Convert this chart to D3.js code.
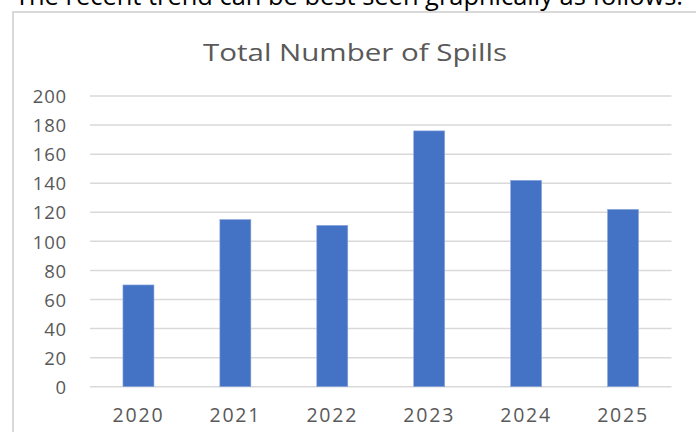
<!DOCTYPE html>
<html>
<head>
<meta charset="utf-8">
<script src="https://cdn.jsdelivr.net/npm/d3@7"></script>
<style>
html,body{margin:0;padding:0;background:#fff;}
svg{display:block;}
</style>
</head>
<body>
<svg id="chart" width="696" height="432"></svg>
<script>
const categories = ["2020","2021","2022","2023","2024","2025"];
const spills = [70, 115, 111, 176, 142, 122];
const yTicks = [0,20,40,60,80,100,120,140,160,180,200];
const titleText = "Total Number of Spills";
const introText = "The recent trend can be best seen graphically as follows:";

const svg = d3.select("#chart");
const W = 696, H = 432;
const plot = {left: 90, right: 671.5, top: 96, bottom: 386.7};

svg.append("rect").attr("width", W).attr("height", H).attr("fill", "#fff");

// intro sentence (cropped at top, as in the reference)
svg.append("text")
  .attr("x", 15).attr("y", 5)
  .attr("font-family", "'Open Sans', 'Liberation Sans', sans-serif")
  .attr("font-size", 25)
  .attr("fill", "#000")
  .attr("textLength", 668)
  .attr("lengthAdjust", "spacingAndGlyphs")
  .text(introText);

// chart border box
svg.append("rect")
  .attr("x", 13).attr("y", 12)
  .attr("width", 700).attr("height", 440)
  .attr("fill", "none")
  .attr("stroke", "#d9d9d9")
  .attr("stroke-width", 2);

const x = d3.scaleBand().domain(categories).range([plot.left, plot.right]).padding(0);
const y = d3.scaleLinear().domain([0, 200]).range([plot.bottom, plot.top]);

// gridlines
svg.append("g").selectAll("line").data(yTicks).join("line")
  .attr("x1", plot.left).attr("x2", plot.right)
  .attr("y1", d => y(d)).attr("y2", d => y(d))
  .attr("stroke", "#d9d9d9").attr("stroke-width", 1.5);

// y axis labels
const yAxis = d3.axisLeft(y).tickValues(yTicks).tickSize(0).tickPadding(0);
const gy = svg.append("g").attr("transform", `translate(67,0)`).call(yAxis);
gy.select(".domain").remove();
gy.selectAll("text")
  .attr("font-family", "'Open Sans', sans-serif")
  .attr("font-size", 18.5)
  .attr("letter-spacing", 0.8)
  .attr("fill", "#595959")
  .attr("dy", "0.36em");

// x axis labels
const xAxis = d3.axisBottom(x).tickSize(0).tickPadding(0);
const gx = svg.append("g").attr("transform", `translate(0,${plot.bottom})`).call(xAxis);
gx.select(".domain").remove();
gx.selectAll("text")
  .attr("font-family", "'Open Sans', sans-serif")
  .attr("font-size", 19.5)
  .attr("letter-spacing", 1.8)
  .attr("fill", "#595959")
  .attr("dy", 0)
  .attr("y", 35);

// bars
const bw = x.bandwidth() * 0.32;
svg.append("g").selectAll("rect").data(categories).join("rect")
  .attr("x", (d) => x(d) + (x.bandwidth() - bw) / 2)
  .attr("width", bw)
  .attr("y", (d, i) => y(spills[i]))
  .attr("height", (d, i) => y(0) - y(spills[i]))
  .attr("fill", "#4472c4")
  .attr("stroke", "#8fa9dc")
  .attr("stroke-width", 0.6);

// title
svg.append("text")
  .attr("x", 355).attr("y", 61)
  .attr("text-anchor", "middle")
  .attr("font-family", "'Open Sans', sans-serif")
  .attr("font-size", 24)
  .attr("fill", "#595959")
  .attr("textLength", 304)
  .attr("lengthAdjust", "spacingAndGlyphs")
  .text(titleText);
</script>
</body>
</html>
